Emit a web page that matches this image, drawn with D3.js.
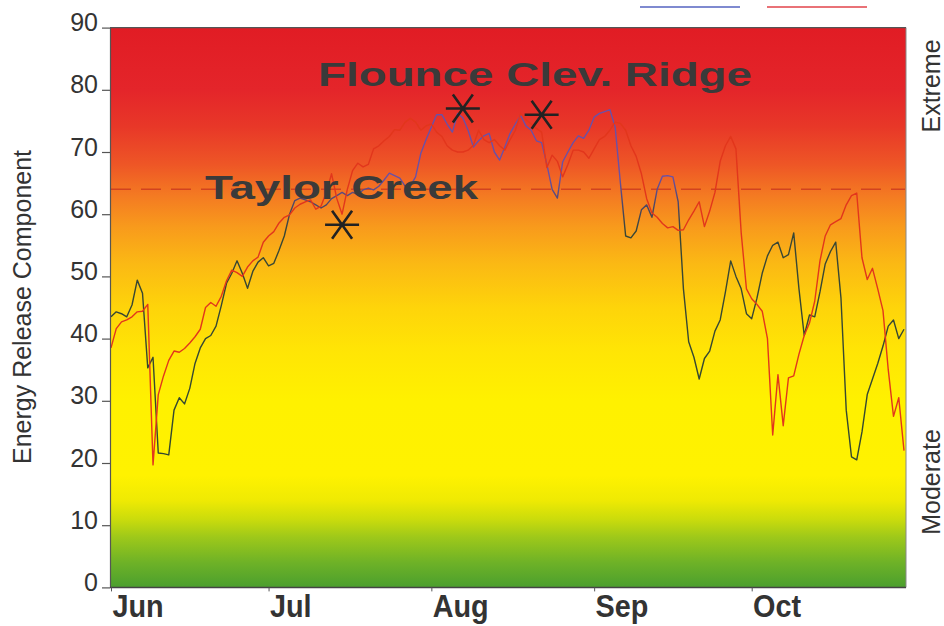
<!DOCTYPE html>
<html><head><meta charset="utf-8">
<script src="https://cdn.jsdelivr.net/npm/d3@7"></script>
<style>body{margin:0;background:#fff}svg{display:block}</style>
</head><body>
<svg id="chart" width="944" height="626"></svg>
<script>
// ---------------- data ----------------
const startDay = "2002-06-01";
const months = ["Jun", "Jul", "Aug", "Sep", "Oct"];
const monthStarts = ["2002-06-01", "2002-07-01", "2002-08-01", "2002-09-01", "2002-10-01"];
const yTicks = [0, 10, 20, 30, 40, 50, 60, 70, 80, 90];
const threshold = 64;

// daily ERC values, Jun 1 .. Oct 30
const ercBlue = [
 43.5,44.3,44.0,43.5,45.4,49.4,47.3,35.3,37.0,21.6,
 21.5,21.3,28.5,30.5,29.5,32.0,36.0,38.5,40.0,40.5,
 42.0,45.3,48.9,50.5,52.5,50.5,48.1,50.8,52.3,53.0,
 51.7,52.1,54.2,56.5,60.0,62.2,62.6,62.3,62.0,61.5,
 61.0,61.5,62.5,63.0,63.5,63.0,63.5,63.2,63.9,64.2,
 63.9,64.5,65.5,66.6,66.2,65.8,64.5,64.5,66.0,69.8,
 72.0,74.0,76.0,76.0,74.5,73.2,76.2,75.5,73.5,70.8,
 71.8,72.6,73.0,70.0,68.7,70.8,73.0,74.5,75.9,74.2,
 73.5,71.8,71.5,68.0,64.0,62.6,68.4,70.0,71.5,72.6,
 72.2,73.5,75.6,76.2,76.5,76.8,74.0,65.0,56.5,56.2,
 57.3,60.7,61.5,59.5,64.0,66.1,66.2,66.0,62.0,48.0,
 39.5,37.0,33.5,36.8,38.0,41.2,43.0,47.5,52.5,50.0,
 48.0,44.0,43.2,46.5,50.5,53.3,55.0,55.5,53.0,53.5,
 57.0,48.0,40.5,43.8,43.5,47.5,52.0,54.0,55.5,46.5,
 28.5,21.0,20.5,25.0,31.0,33.5,36.0,38.8,42.0,43.0,
 40.0,41.5];
const ercRed = [
 38.5,41.6,42.7,43.0,43.5,44.3,44.4,45.5,19.7,31.0,
 34.0,36.5,38.0,37.8,38.4,39.3,40.3,41.5,45.0,45.8,
 45.2,46.8,49.3,51.0,50.6,50.0,51.5,52.5,53.1,55.5,
 56.5,57.2,58.6,59.5,59.9,61.0,61.6,62.0,62.3,60.8,
 61.3,63.5,66.5,62.5,60.0,64.0,67.0,68.2,67.6,68.0,
 70.5,71.0,71.8,72.5,73.6,73.5,74.8,75.4,74.8,73.5,
 74.2,74.5,73.2,72.5,71.0,70.3,70.0,70.0,70.3,71.1,
 73.5,72.0,71.5,72.0,71.0,70.3,72.0,73.5,76.2,75.2,
 74.5,73.8,73.2,67.5,69.5,68.5,66.0,68.0,70.3,70.3,
 70.0,69.0,70.5,72.0,72.5,73.5,74.8,74.6,73.5,71.0,
 69.3,66.5,62.5,60.2,59.5,58.5,57.8,58.0,57.4,57.5,
 59.1,60.5,62.0,58.0,60.5,63.5,68.5,71.0,72.5,70.5,
 57.0,48.0,46.4,45.5,44.4,40.0,24.5,34.2,26.0,33.7,
 34.0,37.5,40.5,42.5,46.0,52.5,56.5,58.3,58.8,59.3,
 61.5,63.0,63.4,53.0,49.5,51.3,48.0,44.5,35.0,27.5,
 30.5,22.0];

// fire markers
const fireNames = ["Taylor Creek", "Flounce", "Clev. Ridge"];
const fireDates = ["2002-07-15", "2002-08-07", "2002-08-22"];
const fireValues = [58.3, 77.0, 76.0];

// ---------------- drawing ----------------
const parse = d3.timeParse("%Y-%m-%d");
const start = parse(startDay);
const dates = ercBlue.map((_, i) => d3.timeDay.offset(start, i));
const svg = d3.select("#chart");
const font = "'Liberation Sans', Arial, sans-serif";

const L = 110, R = 906;
const x = d3.scaleTime().domain([start, dates[dates.length - 1]]).range([111, 904]);
const y = d3.scaleLinear().domain([0, 90]).range([587.4, 27.6]);

const defs = svg.append("defs");
const bg = defs.append("linearGradient").attr("id", "bgGrad")
  .attr("gradientUnits", "userSpaceOnUse").attr("x1", 0).attr("x2", 0)
  .attr("y1", y(90)).attr("y2", y(0));
const bgStops = [[90,"#e11c24"],[80,"#e4252a"],[74,"#e83828"],[68,"#ee5626"],[63,"#f47a22"],
  [58,"#f89a1c"],[52,"#fbb914"],[45,"#fed40a"],[38,"#ffe505"],[30,"#fff100"],[18,"#fff200"],
  [14,"#efea03"],[11,"#cbdc0c"],[8,"#9dc81a"],[4,"#6eb227"],[0,"#4b9f2e"]];
bgStops.forEach(([v, c]) => bg.append("stop").attr("offset", (90 - v) / 90).attr("stop-color", c));

const lg = defs.append("linearGradient").attr("id", "lineGrad")
  .attr("gradientUnits", "userSpaceOnUse").attr("x1", 0).attr("x2", 0)
  .attr("y1", y(90)).attr("y2", y(0));
[[90,"#6a50a8"],[66,"#6a50a6"],[61,"#4c4660"],[57,"#394634"],[0,"#2f4a2c"]]
  .forEach(([v, c]) => lg.append("stop").attr("offset", (90 - v) / 90).attr("stop-color", c));

svg.append("rect").attr("x", L).attr("y", y(90)).attr("width", R - L).attr("height", y(0) - y(90))
  .attr("fill", "url(#bgGrad)");

// threshold dashed line
svg.append("line").attr("x1", L + 1).attr("x2", R - 1).attr("y1", y(threshold)).attr("y2", y(threshold))
  .attr("stroke", "#d2421f").attr("stroke-width", 1.5).attr("stroke-dasharray", "20,10");

// series lines
const line = d3.line().x((d, i) => x(dates[i])).y(d => y(d));
svg.append("path").datum(ercBlue).attr("d", line).attr("fill", "none")
  .attr("stroke", "url(#lineGrad)").attr("stroke-width", 1.4).attr("stroke-linejoin", "round");
svg.append("path").datum(ercRed).attr("d", line).attr("fill", "none")
  .attr("stroke", "#e2361c").attr("stroke-width", 1.4).attr("stroke-linejoin", "round");

// frame
svg.append("line").attr("x1", R).attr("x2", R).attr("y1", y(90)).attr("y2", y(0)).attr("stroke", "#888").attr("stroke-width", 1);
svg.append("line").attr("x1", L).attr("x2", R).attr("y1", y(90)).attr("y2", y(90)).attr("stroke", "#555").attr("stroke-width", 1.2);

// y axis
const yAxis = svg.append("g").attr("transform", `translate(${L},0)`)
  .call(d3.axisLeft(y).tickValues(yTicks).tickSize(8).tickPadding(4).tickSizeOuter(0));
yAxis.select(".domain").attr("stroke", "#555").attr("stroke-width", 1.2);
yAxis.selectAll(".tick line").attr("stroke", "#555").attr("stroke-width", 1.2);
yAxis.selectAll(".tick text").attr("font-family", font)
  .attr("font-size", 25).attr("fill", "#333").attr("dy", "0.12em");

// x axis
const xAxis = svg.append("g").attr("transform", `translate(0,${y(0)})`)
  .call(d3.axisBottom(x).tickValues(monthStarts.map(parse)).tickSize(4).tickSizeOuter(0)
    .tickFormat((d, i) => months[i]));
xAxis.select(".domain").attr("stroke", "#444").attr("stroke-width", 1.5).attr("d", `M${L},0H${R}`);
xAxis.selectAll(".tick line").attr("stroke", "#555");
xAxis.selectAll(".tick text").attr("font-family", font)
  .attr("font-weight", "bold").attr("font-size", 32).attr("fill", "#333")
  .attr("text-anchor", "start").attr("x", 1).attr("y", 30).attr("dy", 0)
  .attr("transform", "scale(0.9,1)");

// axis title and side labels
svg.append("text").attr("transform", "translate(31,307) rotate(-90)").attr("text-anchor", "middle")
  .attr("font-family", font).attr("font-size", 25).attr("fill", "#333").text("Energy Release Component");
svg.append("text").attr("transform", "translate(940,86) rotate(-90)").attr("text-anchor", "middle")
  .attr("font-family", font).attr("font-size", 25).attr("fill", "#333").text("Extreme");
svg.append("text").attr("transform", "translate(940,482) rotate(-90)").attr("text-anchor", "middle")
  .attr("font-family", font).attr("font-size", 25).attr("fill", "#333").text("Moderate");

// legend line stubs (top, cropped legend)
svg.append("line").attr("x1", 640).attr("x2", 740).attr("y1", 7).attr("y2", 7).attr("stroke", "#5563c0").attr("stroke-width", 1.6);
svg.append("line").attr("x1", 767).attr("x2", 867).attr("y1", 7).attr("y2", 7).attr("stroke", "#e2434a").attr("stroke-width", 1.6);

// fire annotations
const ann = svg.append("g").attr("font-family", font).attr("font-weight", "bold")
  .attr("font-size", 33).attr("fill", "#3a3a3a");
ann.append("text").attr("x", 205).attr("y", 199).attr("textLength", 273)
  .attr("lengthAdjust", "spacingAndGlyphs").text(fireNames[0]);
ann.append("text").attr("x", 318).attr("y", 86).attr("textLength", 434)
  .attr("lengthAdjust", "spacingAndGlyphs").text(fireNames[1] + " " + fireNames[2]);

// asterisks
fireDates.forEach((d, i) => {
  const g = svg.append("g").attr("transform", `translate(${x(parse(d))},${y(fireValues[i])})`);
  g.append("path").attr("d", "M-17,0H17M-10,-14L10,14M10,-14L-10,14")
    .attr("stroke", "#222").attr("stroke-width", 2.6).attr("fill", "none");
});
</script>
</body></html>
